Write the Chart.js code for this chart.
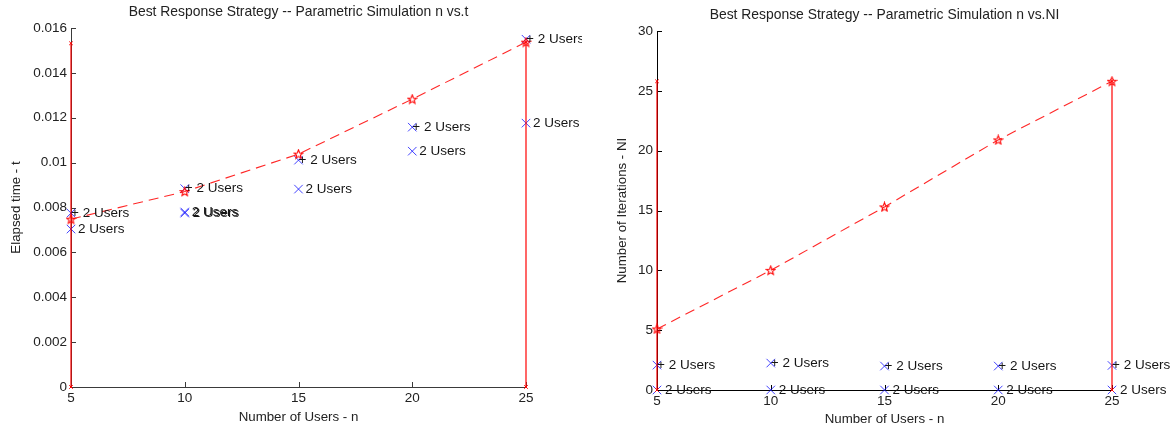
<!DOCTYPE html>
<html><head><meta charset="utf-8">
<script src="https://cdn.jsdelivr.net/npm/chart.js@4.4.1/dist/chart.umd.min.js"></script>
<style>
body{margin:0;background:#fff;width:1172px;height:429px;overflow:hidden;position:relative}
canvas{position:absolute;top:0}
</style></head>
<body>
<canvas id="c1" width="582" height="429" style="left:0"></canvas>
<canvas id="c2" width="582" height="429" style="left:590px"></canvas>
<script>
// ---------- data ----------
const users = [5, 10, 15, 20, 25];
const xTicks = [5, 10, 15, 20, 25];
const xTickLabels = ['5', '10', '15', '20', '25'];

const timeTicks = [0, 0.002, 0.004, 0.006, 0.008, 0.01, 0.012, 0.014, 0.016];
const timeTickLabels = ['0', '0.002', '0.004', '0.006', '0.008', '0.01', '0.012', '0.014', '0.016'];
const timeBest = [0.00748, 0.00871, 0.01038, 0.01283, 0.01537];
const timeSeriesA = [0.00775, 0.00884, 0.01011, 0.01158, 0.01550];
const timeSeriesB = [0.00704, 0.00780, 0.00882, 0.01051, 0.01176];
const timeSeriesC = [null, 0.00775, null, null, null];
const timeBoundX = [5, 5, 25, 25];
const timeBoundY = [0.01532, 0, 0, 0.01537];

const iterTicks = [0, 5, 10, 15, 20, 25, 30];
const iterTickLabels = ['0', '5', '10', '15', '20', '25', '30'];
const iterBest = [5.1, 10.0, 15.3, 20.9, 25.8];
const iterSeriesA = [2.08, 2.25, 2.0, 2.0, 2.05];
const iterSeriesB = [0, 0, 0, 0, 0];
const iterBoundX = [5, 5, 25, 25];
const iterBoundY = [25.8, 0, 0, 25.8];

const pointLabelA = '+ 2 Users';
const pointLabelB = '2 Users';

// ---------- helpers ----------
const FF = '"Liberation Sans", Arial, sans-serif';
const pts = (xs, ys) => xs.map((x, i) => ({x: x, y: ys[i]})).filter(p => p.y !== null);

function starImg(color) {
  const c = document.createElement('canvas');
  c.width = 11; c.height = 11;
  const g = c.getContext('2d');
  g.strokeStyle = color; g.lineWidth = 1.1;
  g.beginPath();
  for (let k = 0; k < 10; k++) {
    const r = k % 2 ? 2.0 : 4.6;
    const a = -Math.PI / 2 + k * Math.PI / 5;
    const px = 5.5 + r * Math.cos(a), py = 5.8 + r * Math.sin(a);
    if (k) g.lineTo(px, py); else g.moveTo(px, py);
  }
  g.closePath(); g.stroke();
  return c;
}
const STAR = starImg('#ff0000');

const labelPlugin = {
  id: 'ptLabels',
  afterDatasetsDraw(chart) {
    const ctx = chart.ctx;
    ctx.save();
    ctx.font = '13.5px ' + FF;
    ctx.fillStyle = '#151515';
    ctx.textBaseline = 'middle';
    ctx.textAlign = 'left';
    chart.data.datasets.forEach((ds, i) => {
      if (!ds.ptLabel) return;
      const meta = chart.getDatasetMeta(i);
      meta.data.forEach(el => { ctx.fillText(ds.ptLabel, el.x + ds.ptLabelDx, el.y); });
    });
    ctx.restore();
  }
};

const inTicks = {
  id: 'inTicks',
  beforeDatasetsDraw(chart, args, opts) {
    const {ctx, chartArea: a, scales: {x, y}} = chart;
    ctx.save();
    ctx.strokeStyle = opts.color; ctx.lineWidth = 1;
    ctx.beginPath();
    x.ticks.forEach(t => { const p = Math.round(x.getPixelForValue(t.value)) + 0.5; ctx.moveTo(p, a.bottom); ctx.lineTo(p, a.bottom - 5); });
    y.ticks.forEach(t => { const p = Math.round(y.getPixelForValue(t.value)) + 0.5; ctx.moveTo(a.left, p); ctx.lineTo(a.left + 5, p); });
    ctx.stroke();
    ctx.restore();
  }
};

function makeChart(id, cfg) {
  const datasets = [
    {data: pts(cfg.boundX, cfg.boundY), showLine: true, borderColor: '#ff0000', borderWidth: 1.2,
     segment: {borderColor: c => c.p0DataIndex === 1 ? 'rgba(0,0,0,0)' : undefined},
     pointStyle: 'crossRot', pointRadius: 2.5, pointBorderColor: '#ff0000', pointBorderWidth: 1, clip: false, order: 1},
    {data: pts(users, cfg.best), showLine: true, borderColor: 'rgba(255,0,0,0.85)', borderWidth: 1.1, borderDash: [10, 6],
     pointStyle: STAR, pointRadius: 5, clip: false, order: 2},
    {data: pts(users, cfg.seriesA), showLine: false, pointStyle: 'crossRot', pointRadius: 6,
     pointBorderColor: 'rgba(20,20,255,0.8)', pointBackgroundColor: 'rgba(0,0,0,0)', pointBorderWidth: 1, clip: false,
     ptLabel: pointLabelA, ptLabelDx: 0, order: 3},
    {data: pts(users, cfg.seriesB), showLine: false, pointStyle: 'crossRot', pointRadius: 6,
     pointBorderColor: 'rgba(20,20,255,0.8)', pointBackgroundColor: 'rgba(0,0,0,0)', pointBorderWidth: 1, clip: false,
     ptLabel: pointLabelB, ptLabelDx: cfg.bDx, order: 4}
  ];
  if (cfg.seriesC) datasets.push(
    {data: pts(users, cfg.seriesC), showLine: false, pointStyle: 'crossRot', pointRadius: 6,
     pointBorderColor: 'rgba(20,20,255,0.8)', pointBackgroundColor: 'rgba(0,0,0,0)', pointBorderWidth: 1, clip: false,
     ptLabel: pointLabelB, ptLabelDx: cfg.bDx + 1, order: 5});

  return new Chart(document.getElementById(id), {
    type: 'scatter',
    data: {datasets},
    plugins: [labelPlugin, inTicks],
    options: {
      responsive: false, animation: false,
      layout: {padding: {left: 0, right: cfg.padRight, top: 0, bottom: 0}},
      plugins: {
        legend: {display: false}, tooltip: {enabled: false},
        title: {display: true, fullSize: false, text: cfg.title, color: '#222',
                font: {size: 13.9, family: FF, weight: 'normal'}, padding: cfg.titlePad},
        inTicks: {color: cfg.axisColor}
      },
      scales: {
        x: {
          type: 'linear', min: 5, max: 25,
          afterBuildTicks: s => { s.ticks = xTicks.map(v => ({value: v})); },
          ticks: {callback: (v, i) => xTickLabels[i], padding: 3, color: '#222', font: {size: 13.5, family: FF},
                  maxRotation: 0, autoSkip: false},
          grid: {display: false, drawTicks: false},
          border: {display: true, color: cfg.axisColor, width: 1},
          title: {display: true, text: 'Number of Users - n', color: '#222', font: {size: 13.3, family: FF},
                  padding: {top: 0, bottom: cfg.xTitlePad}},
          afterFit: s => { s.height = cfg.xHeight; s.paddingLeft = 0; s.paddingRight = 0; }
        },
        y: {
          type: 'linear', min: cfg.yTicks[0], max: cfg.yTicks[cfg.yTicks.length - 1],
          afterBuildTicks: s => { s.ticks = cfg.yTicks.map(v => ({value: v})); },
          ticks: {callback: (v, i) => cfg.yTickLabels[i], padding: 4, color: '#222', font: {size: 13.5, family: FF}},
          grid: {display: false, drawTicks: false},
          border: {display: true, color: cfg.axisColor, width: 1},
          title: {display: true, text: cfg.yTitle, color: '#222', font: {size: 13.3, family: FF},
                  padding: {top: cfg.yTitlePad, bottom: 0}},
          afterFit: s => { s.width = cfg.yWidth; s.paddingTop = 0; s.paddingBottom = 0; }
        }
      }
    }
  });
}

makeChart('c1', {
  title: 'Best Response Strategy -- Parametric Simulation n vs.t',
  yTitle: 'Elapsed time - t',
  best: timeBest, seriesA: timeSeriesA, seriesB: timeSeriesB, seriesC: timeSeriesC,
  boundX: timeBoundX, boundY: timeBoundY,
  yTicks: timeTicks, yTickLabels: timeTickLabels,
  padRight: 56, yWidth: 71, xHeight: 42, titlePad: {top: 3.8, bottom: 7.52},
  xTitlePad: 4, yTitlePad: 8, bDx: 7, axisColor: '#3a3a3a'
});

makeChart('c2', {
  title: 'Best Response Strategy -- Parametric Simulation n vs.NI',
  yTitle: 'Number of Iterations - NI',
  best: iterBest, seriesA: iterSeriesA, seriesB: iterSeriesB, seriesC: null,
  boundX: iterBoundX, boundY: iterBoundY,
  yTicks: iterTicks, yTickLabels: iterTickLabels,
  padRight: 60, yWidth: 67, xHeight: 39, titlePad: {top: 7.2, bottom: 7.12},
  xTitlePad: 2, yTitlePad: 24, bDx: 8, axisColor: '#000'
});
</script>
</body></html>
